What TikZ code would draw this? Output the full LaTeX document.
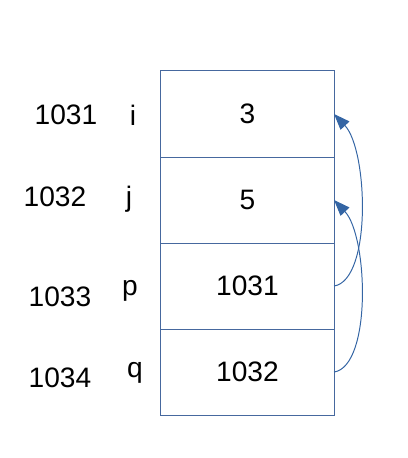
\documentclass[tikz,border=0pt]{standalone}
\usepackage{fontspec}
\setmainfont{Liberation Sans}
\usepackage{tikz}
\usetikzlibrary{arrows.meta,positioning}
\definecolor{boxline}{RGB}{70,104,158}
\definecolor{ptrline}{RGB}{52,101,164}
\tikzset{
    memcell/.style = {
        align=center,
        inner sep=0pt,
        outer sep=0pt,
        rectangle,
        draw=boxline,
        line width=0.7pt,
        minimum width=4.325cm,
        minimum height=2.15cm,
        font=\fontsize{20}{24}\selectfont
    },
    memlabel/.style = {
        inner sep=0pt,
        font=\fontsize{20}{24}\selectfont
    },
    pointer/.style = {
        draw=ptrline,
        line width=0.7pt,
        -{Triangle[length=0.4cm,width=0.3cm,fill=ptrline]}
    }
}

\begin{document}
\begin{tikzpicture}[x=0.025cm,y=-0.025cm]
    \useasboundingbox (0,0) rectangle (407,458);
    % memory cells
    \node [memcell] (cellI) at (247.5,114) {3};
    \node [memcell, below=0pt of cellI] (cellJ) {5};
    \node [memcell, below=0pt of cellJ] (cellP) {1031};
    \node [memcell, below=0pt of cellP] (cellQ) {1032};
    % variable names
    \node [memlabel] (nameI) at (133,115) {i};
    \node [memlabel] (nameJ) at (129,199) {j};
    \node [memlabel] (nameP) at (130,291) {p};
    \node [memlabel] (nameQ) at (135,373) {q};
    % addresses
    \node [memlabel] (addrI) at (66,115) {1031};
    \node [memlabel] (addrJ) at (55,197) {1032};
    \node [memlabel] (addrP) at (60,297) {1033};
    \node [memlabel] (addrQ) at (60,378) {1034};
    % pointers
    \draw [pointer] (cellP.east) .. controls (372,280) and (368,150) .. (cellI.east);
    \draw [pointer] (cellQ.east) .. controls (372,366) and (368,236) .. (cellJ.east);
\end{tikzpicture}
\end{document}
